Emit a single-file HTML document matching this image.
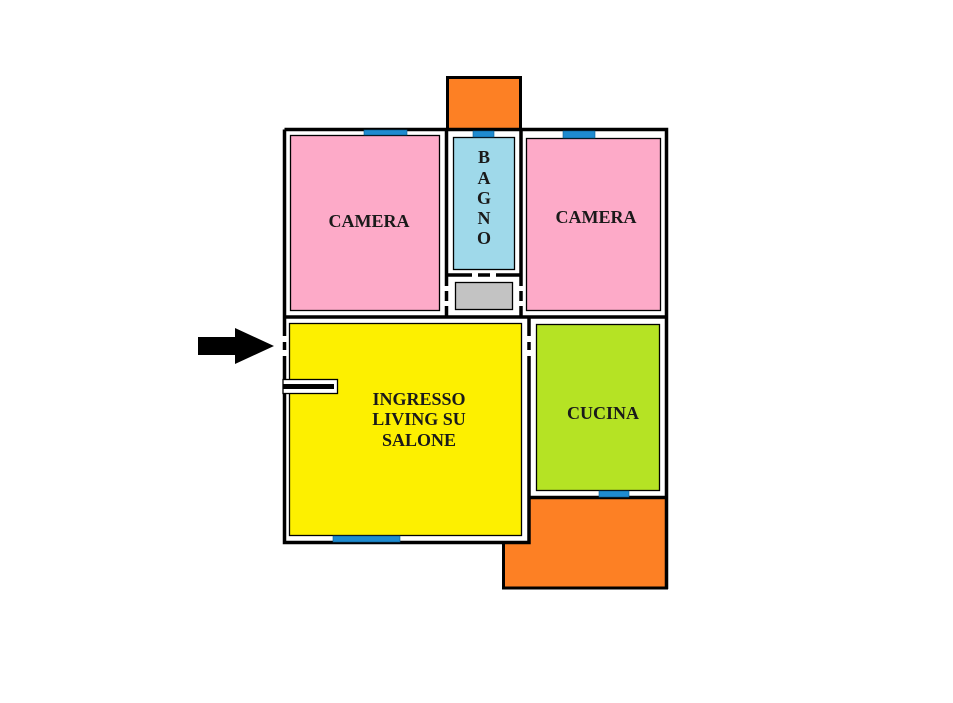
<!DOCTYPE html>
<html><head><style>body{margin:0;background:#fff}svg{display:block}text{font-family:"Liberation Serif",serif;font-weight:bold;fill:#1a1a1a}</style></head>
<body>
<svg width="953" height="703" viewBox="0 0 953 703" xmlns="http://www.w3.org/2000/svg">
<rect width="953" height="703" fill="#fff"/>
<!-- balconies -->
<rect x="447.5" y="77.5" width="73" height="52" fill="#fd8024" stroke="#000" stroke-width="3"/>
<polygon points="529,497.5 666.5,497.5 666.5,588 503.5,588 503.5,542.5 529,542.5" fill="#fd8024" stroke="#000" stroke-width="3"/>
<!-- outer walls -->
<g fill="none" stroke="#000" stroke-width="3.5">
<polyline points="284.5,129.5 666.5,129.5 666.5,589"/>
<polyline points="284.5,129.5 284.5,542.5 529,542.5 529,317"/>
<line x1="284.5" y1="317" x2="666.5" y2="317"/>
<line x1="446.5" y1="129.5" x2="446.5" y2="317"/>
<line x1="521" y1="129.5" x2="521" y2="317"/>
<line x1="446.5" y1="275" x2="521" y2="275"/>
<line x1="529" y1="497.5" x2="666.5" y2="497.5"/>
</g>
<!-- rooms -->
<g stroke="#000" stroke-width="1.3">
<rect x="290.5" y="135.5" width="149" height="175" fill="#fdaac8"/>
<rect x="453.5" y="137.5" width="61" height="132" fill="#9fd9ea"/>
<rect x="455.5" y="282.5" width="57" height="27" fill="#c3c3c3"/>
<rect x="526.5" y="138.5" width="134" height="172" fill="#fdaac8"/>
<rect x="289.5" y="323.5" width="232" height="212" fill="#fdf000"/>
<rect x="536.5" y="324.5" width="123" height="166" fill="#b5e324"/>
</g>
<!-- closet stub -->
<rect x="283" y="379" width="55" height="15" fill="#fff"/>
<rect x="283" y="379.5" width="54.5" height="14" fill="none" stroke="#000" stroke-width="1.3"/>
<rect x="283" y="384" width="51" height="5" fill="#000"/>
<!-- door gaps -->
<g fill="#fff">
<rect x="281" y="336" width="7" height="6"/><rect x="281" y="350" width="7" height="6"/>
<rect x="526" y="336" width="7" height="6"/><rect x="526" y="350" width="7" height="6"/>
<rect x="444" y="286" width="5" height="5"/><rect x="444" y="301" width="5" height="5"/>
<rect x="518" y="286" width="5" height="5"/><rect x="518" y="301" width="5" height="5"/>
<rect x="472" y="272" width="6" height="6"/><rect x="490" y="272" width="6" height="6"/>
</g>
<!-- windows -->
<g fill="#1e8bd0" stroke="#0a5a8a" stroke-width="0.6">
<rect x="364" y="130" width="43" height="5"/>
<rect x="473" y="131" width="21" height="6"/>
<rect x="563" y="131" width="32" height="7"/>
<rect x="599" y="491" width="30" height="6"/>
<rect x="333" y="536" width="67" height="6"/>
</g>
<!-- arrow -->
<polygon points="198,337 235,337 235,328 274,346 235,364 235,355 198,355" fill="#000"/>
<!-- labels -->
<text x="369" y="227" font-size="18" text-anchor="middle">CAMERA</text>
<text x="596" y="223" font-size="18" text-anchor="middle">CAMERA</text>
<g font-size="18" text-anchor="middle">
<text x="484" y="163">B</text><text x="484" y="184">A</text><text x="484" y="204">G</text><text x="484" y="224">N</text><text x="484" y="244">O</text>
</g>
<text x="419" y="405" font-size="18" text-anchor="middle">INGRESSO</text>
<text x="419" y="425" font-size="18" text-anchor="middle">LIVING SU</text>
<text x="419" y="446" font-size="18" text-anchor="middle">SALONE</text>
<text x="603" y="419" font-size="18" text-anchor="middle">CUCINA</text>
</svg>
</body></html>
